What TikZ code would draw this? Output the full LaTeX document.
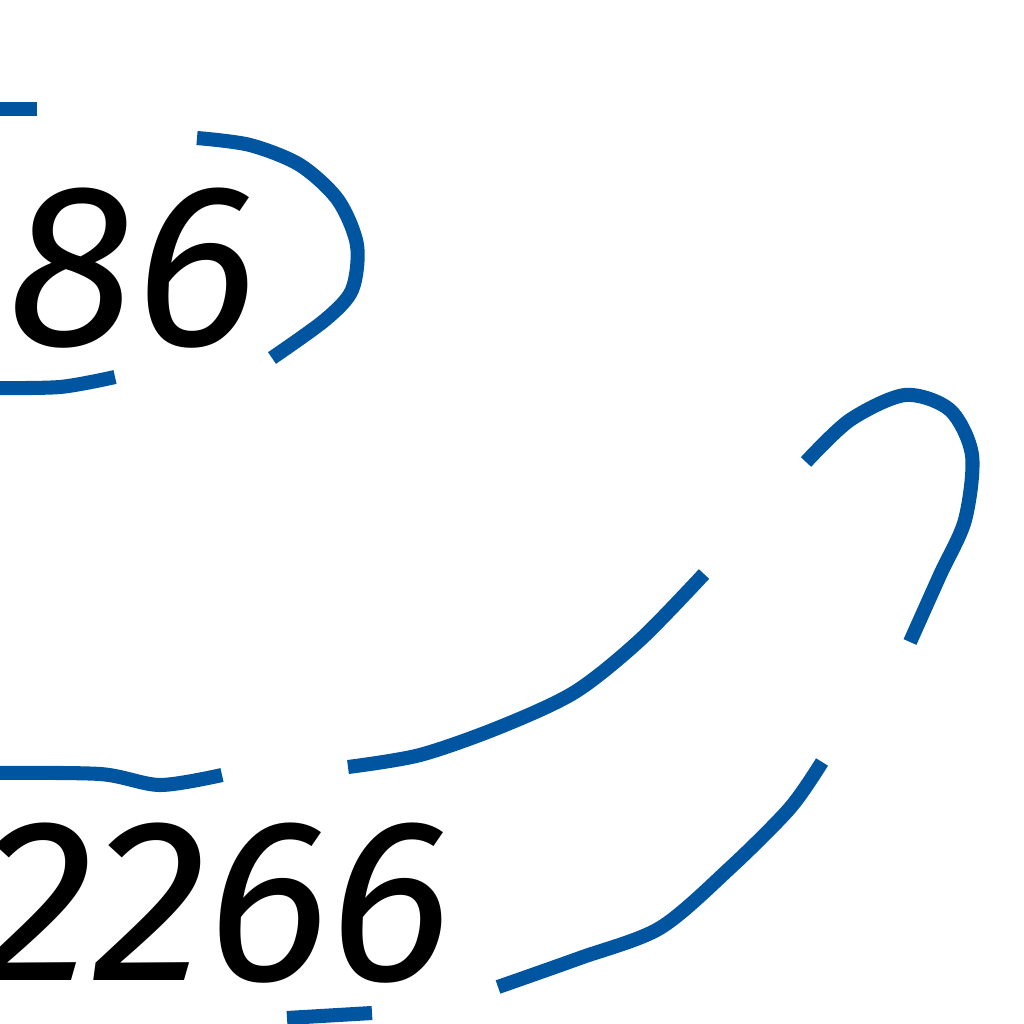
\documentclass[tikz,border=0pt]{standalone}
\usepackage{fontspec}
\newfontfamily\numfont{Fira Sans Italic}
\definecolor{arcblue}{RGB}{0,85,160}
\begin{document}
\begin{tikzpicture}[x=0.01cm,y=-0.01cm,
  arc/.style={draw=arcblue,line width=4pt},
  num/.style={inner sep=0pt,font=\fontsize{66}{66}\numfont}]
\useasboundingbox (0,0) rectangle (1024,1024);
\clip (0,0) rectangle (1024,1024);
\fill[white] (0,0) rectangle (1024,1024);
% numbers
\node[num,anchor=base east] (n86) at (258,345) {86};
\node[num,anchor=base east] (n2266) at (452,980) {2266};
% blue strokes
\draw[arc] (-10,109) -- (37,109);
\draw[arc] plot[smooth] coordinates {(197,138) (250,145) (300,165) (338,200) (357,245) (352,290) (325,320) (272,358)};
\draw[arc] plot[smooth] coordinates {(-10,388) (60,387) (115,377)};
\draw[arc] plot[smooth] coordinates {(806,462) (850,420) (905,395) (950,410) (972,455) (965,520) (940,575) (910,642)};
\draw[arc] plot[smooth] coordinates {(348,767) (420,755) (500,727) (575,692) (640,640) (704,574)};
\draw[arc] plot[smooth] coordinates {(-10,773) (100,774) (160,785) (222,775)};
\draw[arc] plot[smooth] coordinates {(498,987) (580,958) (660,928) (730,868) (790,808) (822,762)};
\draw[arc] (287,1018) -- (372,1013);
\end{tikzpicture}
\end{document}
